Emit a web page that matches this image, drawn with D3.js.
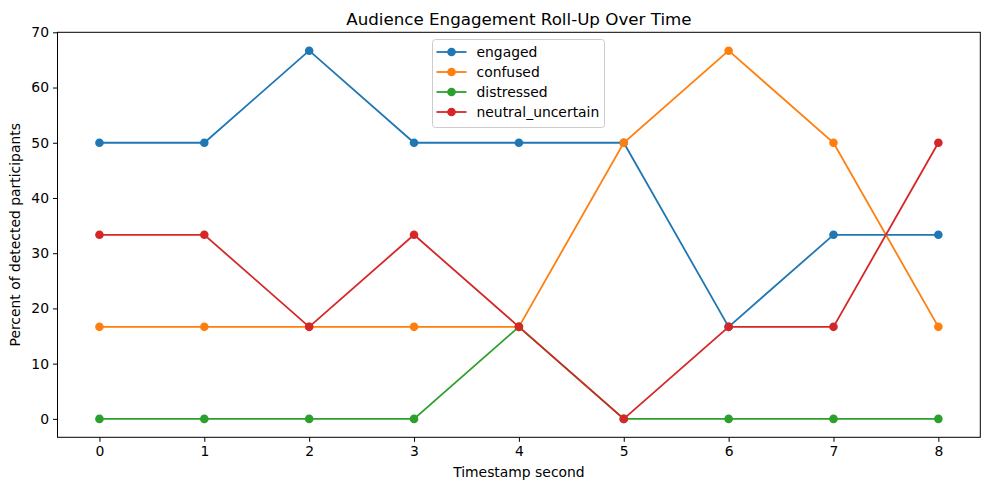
<!DOCTYPE html>
<html>
<head>
<meta charset="utf-8">
<script src="https://cdn.jsdelivr.net/npm/d3@7"></script>
<style>
  body { margin: 0; background: #fff; }
  text { font-family: "DejaVu Sans", sans-serif; fill: #000; }
</style>
</head>
<body>
<div class="chart"></div>
<script>
// Data
let timestamps = [0, 1, 2, 3, 4, 5, 6, 7, 8];
let engaged = [50, 50, 66.67, 50, 50, 50, 16.67, 33.33, 33.33];
let confused = [16.67, 16.67, 16.67, 16.67, 16.67, 50, 66.67, 50, 16.67];
let distressed = [0, 0, 0, 0, 16.67, 0, 0, 0, 0];
let neutralUncertain = [33.33, 33.33, 16.67, 33.33, 16.67, 0, 16.67, 16.67, 50];
let seriesNames = ["engaged", "confused", "distressed", "neutral_uncertain"];
let colors = ["#1f77b4", "#ff7f0e", "#2ca02c", "#d62728"];
let xTicks = [0, 1, 2, 3, 4, 5, 6, 7, 8];
let yTicks = [0, 10, 20, 30, 40, 50, 60, 70];

let svgWidth = 989;
let svgHeight = 490;

let margin = { top: 32.3, right: 8.7, bottom: 52.7, left: 57.5 };
let width = svgWidth - margin.left - margin.right;
let height = svgHeight - margin.top - margin.bottom;

let svg = d3.select(".chart")
    .append("svg")
    .attr("width", svgWidth)
    .attr("height", svgHeight);

let chartGroup = svg.append("g")
    .attr("transform", `translate(${margin.left}, ${margin.top})`);

let xScale = d3.scaleLinear().domain([-0.4, 8.4]).range([0, width]);
let yScale = d3.scaleLinear().domain([-3.3335, 70]).range([height, 0]);

// Axes
let xAxis = chartGroup.append("g")
    .attr("transform", `translate(0, ${height})`)
    .call(d3.axisBottom(xScale).tickValues(xTicks).tickSize(4.5).tickPadding(4).tickFormat(d3.format("d")));

let yAxis = chartGroup.append("g")
    .call(d3.axisLeft(yScale).tickValues(yTicks).tickSize(4.5).tickPadding(4).tickFormat(d3.format("d")));

[xAxis, yAxis].forEach(a => {
    a.select(".domain").remove();
    a.selectAll("line").attr("stroke", "#000").attr("stroke-width", 1);
    a.selectAll("text").style("font-size", "13.9px").style("font-family", "DejaVu Sans, sans-serif");
});

// Frame
chartGroup.append("rect")
    .attr("width", width)
    .attr("height", height)
    .attr("fill", "none")
    .attr("stroke", "#000")
    .attr("stroke-width", 1);

// Lines
let seriesData = [engaged, confused, distressed, neutralUncertain];
let line = d3.line()
    .x((d, i) => xScale(timestamps[i]))
    .y(d => yScale(d));

seriesData.forEach((values, s) => {
    chartGroup.append("path")
        .datum(values)
        .attr("d", line)
        .attr("fill", "none")
        .attr("stroke", colors[s])
        .attr("stroke-width", 1.8);

    chartGroup.selectAll(`.pt${s}`)
        .data(values)
        .enter()
        .append("circle")
        .attr("class", `pt${s}`)
        .attr("cx", (d, i) => xScale(timestamps[i]))
        .attr("cy", d => yScale(d))
        .attr("r", 4.3)
        .attr("fill", colors[s]);
});

// Title and axis labels
svg.append("text")
    .attr("x", margin.left + width / 2)
    .attr("y", 24.5)
    .attr("text-anchor", "middle")
    .style("font-size", "16.7px")
    .text("Audience Engagement Roll-Up Over Time");

svg.append("text")
    .attr("x", margin.left + width / 2)
    .attr("y", 476.5)
    .attr("text-anchor", "middle")
    .style("font-size", "13.9px")
    .text("Timestamp second");

svg.append("text")
    .attr("transform", "rotate(-90)")
    .attr("x", -(margin.top + height / 2))
    .attr("y", 20)
    .attr("text-anchor", "middle")
    .style("font-size", "13.9px")
    .text("Percent of detected participants");

// Legend
let legend = svg.append("g").attr("transform", "translate(432.5, 39.5)");
legend.append("rect")
    .attr("width", 172)
    .attr("height", 88)
    .attr("rx", 3)
    .attr("fill", "#fff")
    .attr("fill-opacity", 0.8)
    .attr("stroke", "#ccc")
    .attr("stroke-width", 1);

seriesNames.forEach((name, i) => {
    let yPos = 12.5 + i * 20;
    legend.append("line")
        .attr("x1", 4).attr("x2", 34)
        .attr("y1", yPos).attr("y2", yPos)
        .attr("stroke", colors[i])
        .attr("stroke-width", 1.8);
    legend.append("circle")
        .attr("cx", 19).attr("cy", yPos).attr("r", 4.3)
        .attr("fill", colors[i]);
    legend.append("text")
        .attr("x", 44)
        .attr("y", yPos)
        .attr("dy", "0.35em")
        .style("font-size", "13.9px")
        .text(name);
});
</script>
</body>
</html>
